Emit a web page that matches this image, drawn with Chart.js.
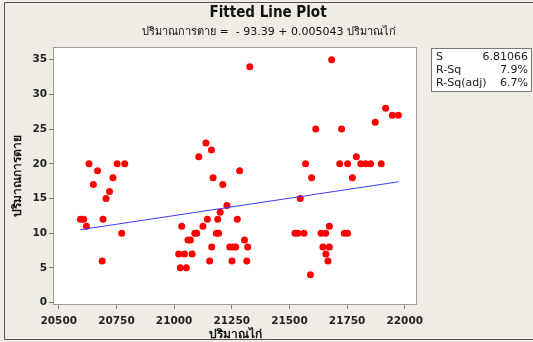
<!DOCTYPE html>
<html lang="th">
<head>
<meta charset="UTF-8">
<title>Fitted Line Plot</title>
<script src="https://cdn.jsdelivr.net/npm/chart.js@4.4.0/dist/chart.umd.min.js"></script>
<style>
  body { margin: 0; background: #efece5; }
</style>
</head>
<body>
<canvas id="chart" width="533" height="342"></canvas>
<script>
// chicken count (x) vs deaths (y)
const chickens = [
  20631, 20668, 20753, 20786, 20650, 20735, 20720, 20705, 20594, 20608, 20692, 20620, 20773, 20688,
  21328, 21138, 21162, 21107, 21284, 21169, 21211, 21229, 21200, 21144, 21189, 21274, 21033, 21125,
  21090, 21098, 21183, 21193, 21060, 21071, 21305, 21163, 21241, 21255, 21267, 21319, 21020, 21045,
  21078, 21154, 21251, 21315, 21027, 21053,
  21683, 21917, 21872, 21946, 21972, 21614, 21726, 21790, 21570, 21718, 21752, 21809, 21830, 21852,
  21898, 21596, 21773, 21547, 21673, 21524, 21536, 21563, 21637, 21657, 21738, 21752, 21645, 21673,
  21658, 21667, 21591
];
const deaths = [
  20, 19, 20, 20, 17, 18, 16, 15, 12, 12, 12, 11, 10, 6,
  34, 23, 22, 21, 19, 18, 17, 14, 13, 12, 12, 12, 11, 11,
  10, 10, 10, 10, 9, 9, 9, 8, 8, 8, 8, 8, 7, 7,
  7, 6, 6, 6, 5, 5,
  35, 28, 26, 27, 27, 25, 25, 21, 20, 20, 20, 20, 20, 20,
  20, 18, 18, 15, 11, 10, 10, 10, 10, 10, 10, 10, 8, 8,
  7, 6, 4
];
// ends of the fitted line
const fitX = [20594, 21972];
const fitY = [10.5, 17.4];

const xTicks = [20500, 20750, 21000, 21250, 21500, 21750, 22000];
const yTicks = [0, 5, 10, 15, 20, 25, 30, 35];

const titleText = 'Fitted Line Plot';
const subtitleText = 'ปริมาณการตาย =  - 93.39 + 0.005043 ปริมาณไก่';
const xTitle = 'ปริมาณไก่';
const yTitle = 'ปริมาณการตาย';
const statNames = ['S', 'R-Sq', 'R-Sq(adj)'];
const statValues = ['6.81066', '7.9%', '6.7%'];

const FONT = 'Tahoma, "DejaVu Sans", "Noto Sans", sans-serif';

const decor = {
  id: 'decor',
  beforeDraw(chart) {
    const ctx = chart.ctx;
    ctx.save();
    ctx.fillStyle = '#efece5';
    ctx.fillRect(0, 0, chart.width, chart.height);
    const a = chart.chartArea;
    ctx.fillStyle = '#ffffff';
    ctx.fillRect(a.left, a.top, a.right - a.left, a.bottom - a.top);
    ctx.restore();
  },
  afterDraw(chart) {
    const ctx = chart.ctx, a = chart.chartArea;
    ctx.save();
    // outer frame
    ctx.strokeStyle = '#555';
    ctx.lineWidth = 1;
    ctx.beginPath();
    ctx.moveTo(533, 2.5); ctx.lineTo(4.5, 2.5); ctx.lineTo(4.5, 339.5); ctx.lineTo(533, 339.5);
    ctx.stroke();
    // plot box
    ctx.strokeStyle = '#9a9a9a';
    ctx.strokeRect(a.left + 0.5, a.top + 0.5, a.right - a.left - 1, a.bottom - a.top - 1);
    // stats box
    ctx.fillStyle = '#fff';
    ctx.fillRect(431, 48, 100, 43);
    ctx.strokeStyle = '#777';
    ctx.strokeRect(431.5, 48.5, 100, 43);
    ctx.fillStyle = '#222';
    ctx.font = '11px ' + FONT;
    ctx.textBaseline = 'middle';
    statNames.forEach((n, i) => {
      ctx.textAlign = 'left';
      ctx.fillText(n, 436, 57 + i * 13);
      ctx.textAlign = 'right';
      ctx.fillText(statValues[i], 528, 57 + i * 13);
    });
    // titles
    ctx.textAlign = 'center';
    ctx.font = 'bold 15px "DejaVu Sans Condensed", ' + FONT;
    ctx.fillStyle = '#111';
    ctx.fillText(titleText, 268, 13);
    ctx.font = '11px ' + FONT;
    ctx.fillText(subtitleText, 269, 32);
    ctx.font = 'bold 12px ' + FONT;
    ctx.fillText(xTitle, 235, 335);
    ctx.translate(18, 176);
    ctx.rotate(-Math.PI / 2);
    ctx.fillText(yTitle, 0, 0);
    ctx.restore();
  }
};

const tickFont = { family: FONT, size: 10.5, weight: 'bold' };

new Chart(document.getElementById('chart'), {
  type: 'scatter',
  data: {
    datasets: [{
      data: fitX.map((x, i) => ({ x, y: fitY[i] })),
      showLine: true,
      borderColor: '#3c3cff',
      borderWidth: 1,
      pointRadius: 0
    }, {
      data: chickens.map((x, i) => ({ x, y: deaths[i] })),
      backgroundColor: '#ff0000',
      borderWidth: 0,
      pointRadius: 3.5
    }]
  },
  options: {
    responsive: false,
    animation: false,
    layout: { padding: { top: 47, right: 116, left: 0, bottom: 0 } },
    plugins: { legend: { display: false }, tooltip: { enabled: false } },
    scales: {
      x: {
        type: 'linear',
        min: 20475,
        max: 22053,
        afterBuildTicks: s => { s.ticks = xTicks.map(v => ({ value: v })); },
        afterFit: s => { s.height = 37; },
        grid: { drawOnChartArea: false, drawTicks: true, tickLength: 4, color: '#808080' },
        border: { display: false },
        ticks: { autoSkip: false, maxRotation: 0, padding: 6, color: '#222', font: tickFont, callback: v => String(v) }
      },
      y: {
        min: -0.36,
        max: 36.84,
        afterBuildTicks: s => { s.ticks = yTicks.map(v => ({ value: v })); },
        afterFit: s => { s.width = 53; },
        grid: { drawOnChartArea: false, drawTicks: true, tickLength: 4, color: '#808080' },
        border: { display: false },
        ticks: { padding: 2, color: '#222', font: tickFont, callback: v => String(v) }
      }
    }
  },
  plugins: [decor]
});
</script>
</body>
</html>
